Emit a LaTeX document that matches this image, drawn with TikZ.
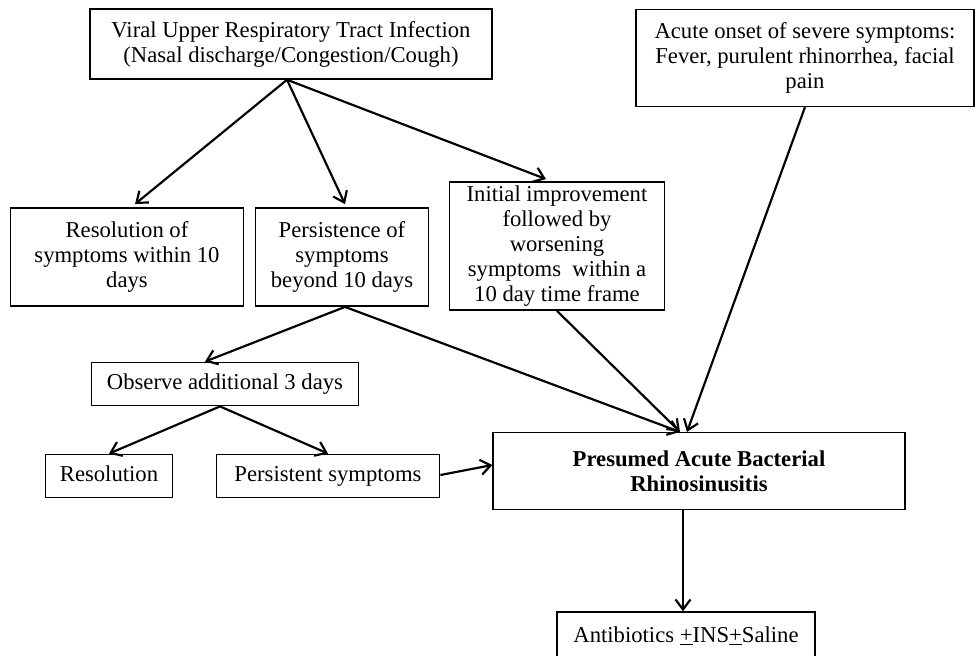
\documentclass[tikz,border=0pt]{standalone}
\usepackage{fontspec}
\setmainfont{Liberation Serif}
\usetikzlibrary{arrows.meta,calc}
\begin{document}
\begin{tikzpicture}[x=0.6pt,y=-0.6pt,
    box/.style={draw, line width=0.9pt, align=center, inner sep=2pt, font=\fontsize{13.6}{15}\selectfont},
    oneline/.style={box, text height=9.5pt, text depth=3pt},
    link/.style={line width=1.3pt, -{Straight Barb[length=6pt,width=9pt,line width=1.3pt]}}]
    \useasboundingbox (0,0) rectangle (977,655);

    % top row
    \node[box, minimum width=241pt, minimum height=42pt] (viral) at (291,44)
      {Viral Upper Respiratory Tract Infection\\(Nasal discharge/Congestion/Cough)};
    \node[box, minimum width=203pt, minimum height=58pt] (acute) at (805,58)
      {Acute onset of severe symptoms:\\Fever, purulent rhinorrhea,\ facial\\pain};

    % second row
    \node[box, minimum width=140pt, minimum height=59pt] (resol) at (127,257)
      {Resolution of\\symptoms within 10\\days};
    \node[box, minimum width=104pt, minimum height=59pt] (persist) at (342,257)
      {Persistence of\\symptoms\\beyond 10 days};
    \node[box, minimum width=129pt, minimum height=77pt] (initial) at (557,246)
      {Initial improvement\\followed by\\worsening\\symptoms\ \ within a\\10 day time frame};

    % observation branch
    \node[oneline, minimum width=160pt, minimum height=26pt] (observe) at (225,384)
      {Observe additional 3 days};
    \node[oneline, minimum width=76pt, minimum height=26pt] (resolution) at (109,476)
      {Resolution};
    \node[oneline, minimum width=134pt, minimum height=26pt] (persistent) at (328,476)
      {Persistent symptoms};

    % diagnosis and treatment
    \node[box, minimum width=247pt, minimum height=46pt, font=\fontsize{13.6}{15}\selectfont\bfseries] (abr) at (699,471)
      {Presumed Acute Bacterial\\Rhinosinusitis};
    \node[oneline, minimum width=155pt, minimum height=30pt] (anti) at (686,637)
      {Antibiotics \underline{+}INS\underline{+}Saline};

    \draw[link] ($(viral.south)+(-4,0)$) -- ($(resol.north)+(8,-3)$);
    \draw[link] ($(viral.south)+(-4,0)$) -- ($(persist.north)+(3,-3)$);
    \draw[link] ($(viral.south)+(-4,0)$) -- ($(initial.north)+(-11,-2)$);

    \draw[link] ($(persist.south)+(3,0)$) -- ($(observe.north)+(-20,0)$);
    \draw[link] ($(persist.south)+(3,0)$) -- ($(abr.north)+(-19,0)$);
    \draw[link] (initial.south) -- ($(abr.north)+(-19,0)$);
    \draw[link] (acute.south) -- ($(abr.north)+(-12,0)$);

    \draw[link] ($(observe.south)+(-5,0)$) -- (resolution.north);
    \draw[link] ($(observe.south)+(-5,0)$) -- (persistent.north);
    \draw[link] ($(persistent.east)+(0,-1)$) -- ($(abr.west)+(0,-6)$);

    \draw[link] ($(abr.south -| anti.north)+(-3,0)$) -- ($(anti.north)+(-3,0)$);
\end{tikzpicture}
\end{document}
